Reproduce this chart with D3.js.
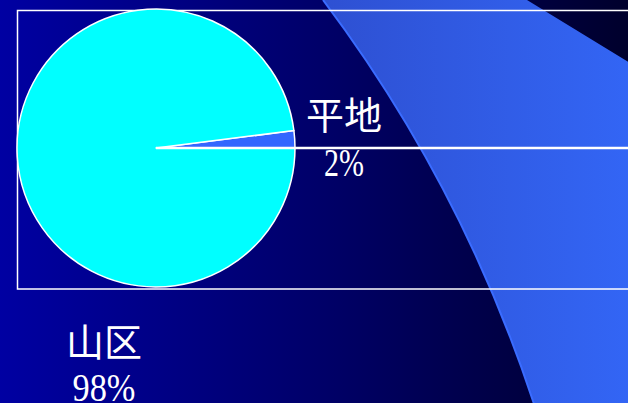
<!DOCTYPE html>
<html><head><meta charset="utf-8">
<script src="https://cdn.jsdelivr.net/npm/d3@7"></script>
<style>html,body{margin:0;padding:0;background:#000060;overflow:hidden}</style>
</head><body>
<svg id="c" width="628" height="403"></svg>
<script>
const categories = ["平地", "山区"];
const values = [2, 98];
const pctLabels = ["2%", "98%"];
const colors = ["#3366ff", "#00ffff"];

const W = 628, H = 403;
const svg = d3.select("#c");
const defs = svg.append("defs");
const bg = defs.append("linearGradient").attr("id","bg").attr("x1","0").attr("x2","1").attr("y1","0").attr("y2","0");
bg.append("stop").attr("offset","0").attr("stop-color","#0000a2");
bg.append("stop").attr("offset","0.5").attr("stop-color","#00006a");
bg.append("stop").attr("offset","1").attr("stop-color","#00002c");
const bl = defs.append("linearGradient").attr("id","bl").attr("x1","0").attr("x2","1").attr("y1","0").attr("y2","0");
bl.append("stop").attr("offset","0").attr("stop-color","#2e50d2");
bl.append("stop").attr("offset","1").attr("stop-color","#3366f6");

svg.append("rect").attr("width",W).attr("height",H).attr("fill","url(#bg)");
// decorative swoosh
svg.append("path")
  .attr("d","M323,0 A1400,1400 0 0 1 536,410 L640,410 L640,69 L527,0 Z")
  .attr("fill","url(#bl)");
svg.append("path")
  .attr("d","M323,0 A1400,1400 0 0 1 536,410")
  .attr("fill","none").attr("stroke","#3a6cff").attr("stroke-width",2);

// frame
svg.append("rect").attr("x",17.5).attr("y",10.5).attr("width",640).attr("height",278.5)
  .attr("fill","none").attr("stroke","#ffffff").attr("stroke-width",1.5);

const cx = 156, cy = 148, r = 139;
const total = d3.sum(values);
const start = Math.PI/2 - 2*Math.PI*values[0]/total;
const pie = d3.pie().sort(null).startAngle(start).endAngle(start + 2*Math.PI);
const arcs = pie(values);
const arc = d3.arc().innerRadius(0).outerRadius(r);
const g = svg.append("g").attr("transform",`translate(${cx},${cy})`);
g.selectAll("path").data(arcs).enter().append("path")
  .attr("d",arc)
  .attr("fill",(d,i)=>colors[i])
  .attr("stroke","#ffffff").attr("stroke-width",1.5).attr("stroke-linejoin","round");

// leader line along the slice boundary
const a = arcs[0].endAngle;
const xEnd = W - cx + 5;
g.append("line").attr("x1",0).attr("y1",0)
  .attr("x2",xEnd*Math.sin(a)).attr("y2",-xEnd*Math.cos(a))
  .attr("stroke","#ffffff").attr("stroke-width",2.5);

const font = "'Liberation Serif','Noto Sans CJK SC',serif";
const labelPos = [[344,129,176],[104,356,401]];
const pctWidth = [40, 63];
categories.forEach((c,i)=>{
  svg.append("text").attr("x",labelPos[i][0]).attr("y",labelPos[i][1])
    .attr("text-anchor","middle").attr("fill","#fff")
    .attr("font-family","'Noto Sans CJK SC',sans-serif").attr("font-size",38).attr("font-weight",400).text(c);
  svg.append("text").attr("x",labelPos[i][0] - pctWidth[i]/2).attr("y",labelPos[i][2])
    .attr("fill","#fff")
    .attr("textLength",pctWidth[i]).attr("lengthAdjust","spacingAndGlyphs")
    .attr("font-family",font).attr("font-size",41).text(pctLabels[i]);
});
</script>
</body></html>
